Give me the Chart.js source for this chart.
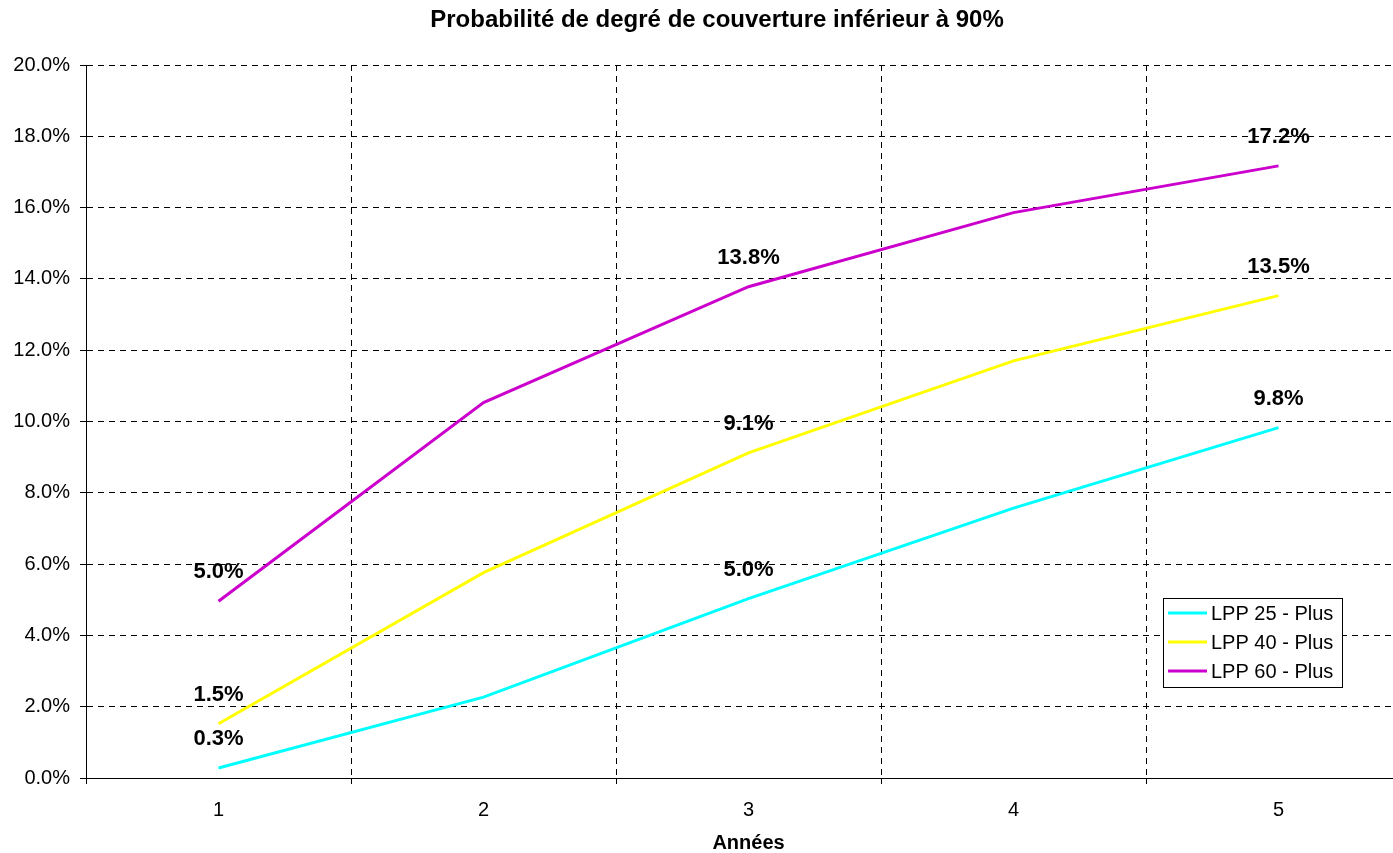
<!DOCTYPE html>
<html>
<head>
<meta charset="utf-8">
<script src="https://cdn.jsdelivr.net/npm/chart.js@4/dist/chart.umd.min.js"></script>
<style>
  html, body { margin: 0; padding: 0; background: #fff; overflow: hidden; }
  #wrap { width: 1411px; height: 853px; }
</style>
</head>
<body>
<div id="wrap"><canvas id="myChart"></canvas></div>
<script>
const years = ['1', '2', '3', '4', '5'];
const lpp25 = [0.28, 2.27, 5.03, 7.57, 9.83];
const lpp40 = [1.52, 5.76, 9.12, 11.70, 13.53];
const lpp60 = [4.96, 10.53, 13.78, 15.86, 17.17];
const labelledPoints = [0, 2, 4];   // only years 1, 3 and 5 carry a value label
const yTicks = [0, 2, 4, 6, 8, 10, 12, 14, 16, 18, 20];

const FONT = "'Liberation Sans', Arial, sans-serif";

// title, axis title, value labels and the boxed legend, drawn Excel-style
const excelBits = {
    id: 'excelBits',
    afterDatasetsDraw(chart) {
        const ctx = chart.ctx;
        ctx.save();
        ctx.fillStyle = '#000';
        ctx.textAlign = 'center';
        ctx.textBaseline = 'middle';
        ctx.font = 'bold 22px ' + FONT;
        chart.data.datasets.forEach((ds, i) => {
            const meta = chart.getDatasetMeta(i);
            labelledPoints.forEach(j => {
                const pt = meta.data[j];
                ctx.fillText(ds.data[j].toFixed(1) + '%', pt.x, pt.y - 29);
            });
        });
        ctx.restore();
    },
    afterDraw(chart) {
        const ctx = chart.ctx;
        const area = chart.chartArea;
        ctx.save();
        ctx.fillStyle = '#000';
        ctx.textAlign = 'center';
        ctx.textBaseline = 'middle';
        ctx.font = 'bold 24px ' + FONT;
        ctx.fillText('Probabilité de degré de couverture inférieur à 90%', 717, 20);
        ctx.font = 'bold 20px ' + FONT;
        ctx.fillText('Années', (area.left + area.right) / 2, 843);

        // legend box
        const bx = 1163, by = 598, bw = 179, bh = 89;
        ctx.fillStyle = '#fff';
        ctx.fillRect(bx, by, bw, bh);
        ctx.strokeStyle = '#000';
        ctx.lineWidth = 1;
        ctx.strokeRect(bx + 0.5, by + 0.5, bw, bh);
        ctx.font = '20px ' + FONT;
        ctx.textAlign = 'left';
        chart.data.datasets.forEach((ds, i) => {
            const y = 613 + i * 29;
            ctx.strokeStyle = ds.borderColor;
            ctx.lineWidth = 3;
            ctx.beginPath();
            ctx.moveTo(1168, y);
            ctx.lineTo(1207, y);
            ctx.stroke();
            ctx.fillStyle = '#000';
            ctx.fillText(ds.label, 1211, y + 1);
        });
        ctx.restore();
    }
};

new Chart('myChart', {
    type: 'line',
    data: {
        labels: years,
        datasets: [
            { label: 'LPP 25 - Plus', data: lpp25, borderColor: '#00FFFF', backgroundColor: '#00FFFF' },
            { label: 'LPP 40 - Plus', data: lpp40, borderColor: '#FFFF00', backgroundColor: '#FFFF00' },
            { label: 'LPP 60 - Plus', data: lpp60, borderColor: '#CC00CC', backgroundColor: '#CC00CC' }
        ]
    },
    options: {
        responsive: true,
        maintainAspectRatio: false,
        animation: false,
        layout: { padding: { top: 65, left: 0, right: 0, bottom: 0 } },
        elements: {
            line: { borderWidth: 3, tension: 0 },
            point: { radius: 0, hoverRadius: 0 }
        },
        plugins: {
            legend: { display: false },
            title: { display: false },
            tooltip: { enabled: false }
        },
        scales: {
            x: {
                offset: true,
                grid: {
                    offset: true,
                    color: '#000',
                    lineWidth: 1,
                    tickLength: 6,
                    tickColor: '#000'
                },
                border: { display: true, color: '#000', width: 1, dash: [6, 5] },
                ticks: {
                    color: '#000',
                    font: { family: FONT, size: 20 },
                    padding: 14,
                    maxRotation: 0
                },
                afterFit(scale) { scale.height = 75; }
            },
            y: {
                min: 0,
                max: 20,
                afterBuildTicks(scale) { scale.ticks = yTicks.map(v => ({ value: v })); },
                grid: {
                    color: '#000',
                    lineWidth: 1,
                    tickLength: 6,
                    tickColor: '#000'
                },
                border: { display: true, color: '#000', width: 1, dash: [6, 5] },
                ticks: {
                    color: '#000',
                    font: { family: FONT, size: 20 },
                    padding: 10,
                    callback: v => v.toFixed(1) + '%'
                },
                afterFit(scale) { scale.width = 86; }
            }
        }
    },
    plugins: [excelBits]
});
</script>
</body>
</html>
